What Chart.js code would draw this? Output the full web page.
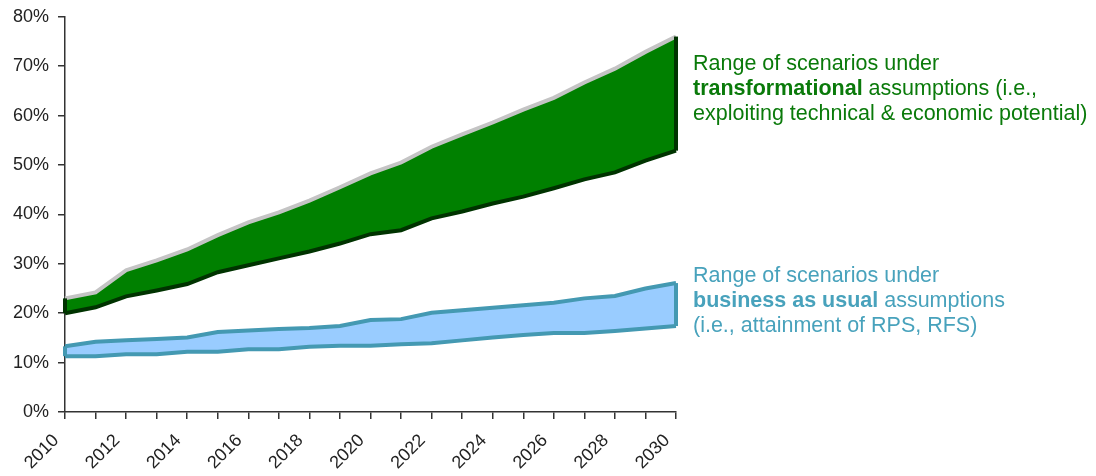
<!DOCTYPE html>
<html>
<head>
<meta charset="utf-8">
<script src="https://cdn.jsdelivr.net/npm/chart.js@4"></script>
<style>
  html, body { margin: 0; padding: 0; background: #fff; }
  #wrap { position: relative; width: 1096px; height: 476px; overflow: hidden; }
  #chart { position: absolute; left: 0; top: -3px; }
  .note { position: absolute; left: 693px; font-family: 'Liberation Sans', Arial, sans-serif; font-size: 21.5px; line-height: 25px; white-space: nowrap; }
  .note b { font-weight: bold; }
</style>
</head>
<body>
<div id="wrap">
  <canvas id="chart" width="1096" height="479"></canvas>
  <div class="note" id="noteTrans" style="top: 51px; color: #0a7a0a;">Range of scenarios under<br><b>transformational</b> assumptions (i.e.,<br>exploiting technical &amp; economic potential)</div>
  <div class="note" id="noteBau" style="top: 263px; color: #48a2bc;">Range of scenarios under<br><b>business as usual</b> assumptions<br>(i.e., attainment of RPS, RFS)</div>
</div>
<script>
const years = ['2010', '2011', '2012', '2013', '2014', '2015', '2016', '2017', '2018', '2019', '2020',
               '2021', '2022', '2023', '2024', '2025', '2026', '2027', '2028', '2029', '2030'];

// business as usual range (%)
const bauLow  = [11.3, 11.3, 11.7, 11.7, 12.2, 12.2, 12.7, 12.7, 13.2, 13.4, 13.4,
                 13.7, 13.9, 14.5, 15.1, 15.6, 16.0, 16.0, 16.4, 16.9, 17.4];
const bauHigh = [13.3, 14.2, 14.5, 14.8, 15.1, 16.2, 16.5, 16.8, 17.0, 17.4, 18.6,
                 18.8, 20.1, 20.6, 21.1, 21.6, 22.1, 23.0, 23.5, 25.0, 26.1];

// transformational range (%)
const transLow  = [20.0, 21.2, 23.4, 24.6, 25.9, 28.3, 29.7, 31.1, 32.5, 34.1, 36.0,
                   36.8, 39.2, 40.6, 42.2, 43.6, 45.3, 47.1, 48.5, 50.9, 52.9];
const transHigh = [23.0, 24.2, 28.7, 30.7, 32.9, 35.8, 38.4, 40.4, 42.8, 45.5, 48.3,
                   50.5, 53.7, 56.2, 58.6, 61.2, 63.6, 66.7, 69.5, 72.9, 76.0];

const yTicks = [0, 10, 20, 30, 40, 50, 60, 70, 80];

const FONT = "'Liberation Sans', Arial, sans-serif";

// closes the bands with vertical edges at first / last year
const bandEdges = {
    id: 'bandEdges',
    afterDatasetsDraw(chart) {
        const ctx = chart.ctx;
        const pairs = [[0, 1, '#4499b2', 4], [2, 3, '#003300', 4]];
        pairs.forEach(([lo, hi, color, w]) => {
            const a = chart.getDatasetMeta(lo).data;
            const b = chart.getDatasetMeta(hi).data;
            [0, a.length - 1].forEach(i => {
                ctx.save();
                ctx.strokeStyle = color;
                ctx.lineWidth = w;
                ctx.beginPath();
                ctx.moveTo(a[i].x, a[i].y);
                ctx.lineTo(b[i].x, b[i].y);
                ctx.stroke();
                ctx.restore();
            });
        });
    }
};

new Chart(document.getElementById('chart'), {
    type: 'line',
    data: {
        labels: years,
        datasets: [
            {
                label: 'BAU low',
                data: bauLow,
                borderColor: '#4499b2',
                borderWidth: 4,
                pointRadius: 0,
                fill: false,
                order: 3
            },
            {
                label: 'BAU high',
                data: bauHigh,
                borderColor: '#4499b2',
                backgroundColor: '#99ccff',
                borderWidth: 4,
                pointRadius: 0,
                fill: '-1',
                order: 4
            },
            {
                label: 'Transformational low',
                data: transLow,
                borderColor: '#003300',
                borderWidth: 4,
                pointRadius: 0,
                fill: false,
                order: 1
            },
            {
                label: 'Transformational high',
                data: transHigh,
                borderColor: '#c4c4c4',
                backgroundColor: '#008000',
                borderWidth: 4,
                pointRadius: 0,
                fill: '-1',
                order: 2
            }
        ]
    },
    options: {
        responsive: false,
        animation: false,
        layout: { padding: { left: 4, right: 420, top: 3, bottom: 0 } },
        plugins: {
            legend: { display: false },
            tooltip: { enabled: false }
        },
        scales: {
            x: {
                offset: false,
                afterFit: axis => { axis.height = 64; }, // labels run off the bottom like the original
                grid: { display: true, drawOnChartArea: false, offset: false, color: '#333', lineWidth: 1.5, tickLength: 7 },
                border: { color: '#333', width: 1.5 },
                ticks: {
                    autoSkip: false,
                    maxRotation: 45,
                    minRotation: 45,
                    color: '#222',
                    font: { family: FONT, size: 18 },
                    padding: 11,
                    labelOffset: -9,
                    callback: (v, i) => (i % 2 === 0 ? years[i] : '')
                }
            },
            y: {
                min: yTicks[0],
                max: yTicks[yTicks.length - 1],
                afterBuildTicks: axis => { axis.ticks = yTicks.map(v => ({ value: v })); },
                grid: { display: true, drawOnChartArea: false, color: '#333', lineWidth: 1.5, tickLength: 7 },
                border: { color: '#333', width: 1.5 },
                ticks: {
                    color: '#222',
                    font: { family: FONT, size: 18 },
                    padding: 9,
                    callback: v => v + '%'
                }
            }
        }
    },
    plugins: [bandEdges]
});
</script>
</body>
</html>
